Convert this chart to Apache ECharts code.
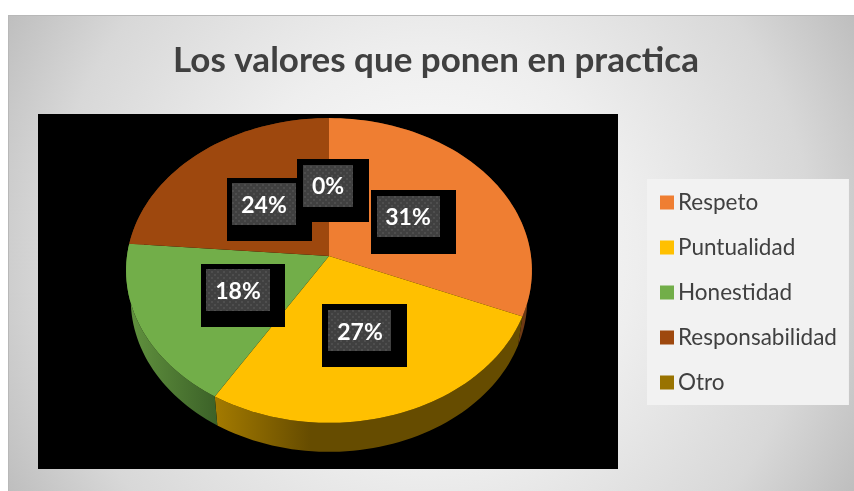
<!DOCTYPE html>
<html>
<head>
<meta charset="utf-8">
<style>html,body{margin:0;padding:0;background:#fff}#main{width:854px;height:491px}</style>
<script src="https://cdn.jsdelivr.net/npm/echarts@6/dist/echarts.min.js"></script>
</head>
<body>
<div id="main"></div>
<script>
var categories = ['Respeto', 'Puntualidad', 'Honestidad', 'Responsabilidad', 'Otro'];
var shares = [31.3, 27.4, 17.6, 23.7, 0];

var colors = ['#EF7E32', '#FFC000', '#72AE49', '#9E480E', '#997300'];
// wall gradient per slice, left to right
var wallShades = [
    ['#6e3a14', '#6e3a14'],
    ['#a37a00', '#664c00'],
    ['#62933f', '#3c6228'],
    ['#6e3a14', '#6e3a14'],
    ['#6b5000', '#6b5000']
];
var wallRanges = [[500, 530], [216, 310], [127, 216], [127, 530], [127, 530]];
// black box, grey box, text centre
var labelBoxes = [
    [[371, 190, 85, 64], [377, 196, 63, 41], [408, 218]],
    [[322, 304, 85, 63], [328, 310, 63, 41], [360, 333]],
    [[201, 264, 84, 63], [206, 269, 64, 42], [238, 292]],
    [[227, 178, 85, 63], [232, 183, 64, 42], [264, 206]],
    [[297, 159, 72, 63], [303, 165, 50, 42], [328, 187]]
];

// tilted pie: unit circle through a perspective map
var pie = { cx: 329, cy: 256, rx: 202, ry: 151, k: 0.095, depth: 29, rimScale: 0.977 };

function project(pct, dy, scale) {
    var a = pct / 100 * Math.PI * 2;
    var u = Math.sin(a), v = -Math.cos(a);
    var d = 1 - pie.k * v;
    return [pie.cx + (scale || 1) * pie.rx * u / d, pie.cy + pie.ry * v / d + (dy || 0)];
}

function arcPoints(from, to, dy, scale) {
    var pts = [];
    var steps = Math.max(1, Math.ceil((to - from) * 2));
    for (var i = 0; i <= steps; i++) {
        pts.push(project(from + (to - from) * i / steps, dy, scale));
    }
    return pts;
}

// running start / end of each slice
var spans = [];
var total = 0;
shares.forEach(function (s) {
    spans.push([total, total + s]);
    total += s;
});

function dotPattern() {
    var c = document.createElement('canvas');
    c.width = 6;
    c.height = 6;
    var g = c.getContext('2d');
    g.fillStyle = '#404040';
    g.fillRect(0, 0, 6, 6);
    g.fillStyle = '#4e4e4e';
    g.fillRect(1, 1, 2, 2);
    g.fillRect(4, 4, 2, 2);
    return c;
}
var pattern = dotPattern();

function renderTop(params, api) {
    var from = api.value(0), to = api.value(1);
    if (to <= from) return null;
    return {
        type: 'polygon',
        shape: { points: [[pie.cx, pie.cy]].concat(arcPoints(from, to)) },
        style: { fill: api.visual('color') }
    };
}

function renderWall(params, api) {
    var from = api.value(0), to = api.value(1);
    if (to <= from) return null;
    var i = params.dataIndex;
    return {
        type: 'polygon',
        shape: { points: arcPoints(from, to).concat(arcPoints(from, to, pie.depth, pie.rimScale).reverse()) },
        style: {
            fill: {
                type: 'linear', x: wallRanges[i][0], y: 0, x2: wallRanges[i][1], y2: 0, global: true,
                colorStops: [{ offset: 0, color: wallShades[i][0] }, { offset: 1, color: wallShades[i][1] }]
            }
        }
    };
}

function renderLabel(params, api) {
    var b = labelBoxes[params.dataIndex];
    return {
        type: 'group',
        children: [
            { type: 'rect', shape: { x: b[0][0], y: b[0][1], width: b[0][2], height: b[0][3] }, style: { fill: '#000' } },
            { type: 'rect', shape: { x: b[1][0], y: b[1][1], width: b[1][2], height: b[1][3] }, style: { fill: { image: pattern, repeat: 'repeat' } } },
            { type: 'text', style: {
                x: b[2][0], y: b[2][1], text: Math.round(api.value(0)) + '%',
                align: 'center', verticalAlign: 'middle',
                font: 'bold 23px Lato', fill: '#fff'
            } }
        ]
    };
}

var series = [
    { name: 'walls', type: 'custom', coordinateSystem: 'none', z: 2, silent: true, renderItem: renderWall, data: spans }
];
categories.forEach(function (name, i) {
    series.push({
        name: name, type: 'custom', coordinateSystem: 'none', z: 3, silent: true, renderItem: renderTop,
        itemStyle: { color: colors[i] },
        data: [spans[i]]
    });
});
series.push({
    name: 'labels', type: 'custom', coordinateSystem: 'none', z: 4, silent: true, renderItem: renderLabel,
    data: shares.map(function (s) { return [s]; })
});

echarts.init(document.getElementById('main')).setOption({
    animation: false,
    backgroundColor: '#fff',
    title: {
        text: 'Los valores que ponen en practica',
        left: 431,
        top: 56,
        textAlign: 'center',
        textVerticalAlign: 'middle',
        textStyle: { color: '#404040', fontFamily: 'Lato', fontWeight: 'bold', fontSize: 35 }
    },
    legend: {
        data: categories,
        orient: 'vertical',
        left: 647,
        top: 179,
        width: 202,
        height: 226,
        icon: 'rect',
        itemWidth: 14,
        itemHeight: 14,
        itemGap: 22,
        padding: [12, 12, 11, 13],
        backgroundColor: '#f2f2f2',
        selectedMode: false,
        textStyle: { color: '#404040', fontFamily: 'Lato', fontSize: 22.5, padding: [0, 0, 2, -1] }
    },
    graphic: [
        { type: 'rect', z: 0, silent: true, shape: { x: 8, y: 15, width: 846, height: 476 },
          style: { fill: {
              type: 'radial', x: 431, y: 253, r: 490, global: true,
              colorStops: [
                  { offset: 0, color: '#ffffff' },
                  { offset: 0.42, color: '#eeeeee' },
                  { offset: 0.78, color: '#d8d8d8' },
                  { offset: 1, color: '#bdbdbd' }
              ]
          } } },
        { type: 'rect', z: 0, silent: true, shape: { x: 8, y: 15, width: 846, height: 1 }, style: { fill: '#b8b8b8' } },
        { type: 'rect', z: 0, silent: true, shape: { x: 8, y: 15, width: 1, height: 476 }, style: { fill: '#b8b8b8' } },
        { type: 'rect', z: 1, silent: true, shape: { x: 38, y: 114, width: 580, height: 355 }, style: { fill: '#000' } }
    ],
    series: series
});
</script>
</body>
</html>
